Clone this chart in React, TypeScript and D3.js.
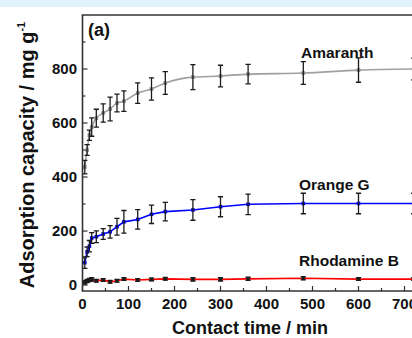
import React from "react";
import * as d3 from "d3";

const times = [5, 10, 15, 20, 30, 45, 60, 75, 90, 120, 150, 180, 240, 300, 360, 480, 600, 720];
const amaranth = [437, 500, 555, 585, 618, 637, 652, 674, 681, 711, 726, 748, 770, 774, 781, 785, 796, 800];
const amaranthErr = [25, 20, 19, 34, 33, 34, 44, 33, 38, 38, 41, 42, 46, 40, 36, 42, 45, 40];
const orangeG = [83, 123, 144, 174, 179, 189, 197, 216, 234, 243, 262, 272, 278, 290, 299, 302, 302, 302];
const orangeGErr = [21, 18, 21, 20, 22, 20, 23, 31, 42, 36, 34, 34, 38, 37, 38, 38, 38, 38];
const rhodamineB = [10, 15, 19, 21, 16, 19, 12, 16, 22, 19, 21, 23, 21, 21, 23, 25, 22, 22];
const rhodamineBErr = [6, 6, 6, 6, 5, 5, 5, 5, 5, 5, 5, 5, 6, 6, 6, 6, 5, 5];

const xMajor = [0, 100, 200, 300, 400, 500, 600, 700];
const xMinor = [50, 150, 250, 350, 450, 550, 650];
const yMajor = [0, 200, 400, 600, 800];
const yMinor = [100, 300, 500, 700, 900];

const seriesNames = ["Amaranth", "Orange G", "Rhodamine B"];

const FONT = "'Liberation Sans', Arial, Helvetica, sans-serif";

export default function App() {
  const W = 412, H = 338;
  const x = d3.scaleLinear().domain([0, 700]).range([82.5, 404.5]);
  const y = d3.scaleLinear().domain([-22, 1000]).range([291, 15]);
  const xEnd = x(760);

  const series = [
    { name: seriesNames[0], vals: amaranth, err: amaranthErr, color: "#a0a0a0", marker: "#8a8a8a", curve: d3.curveMonotoneX, lx: 301, ly: 58 },
    { name: seriesNames[1], vals: orangeG, err: orangeGErr, color: "#0000ff", marker: "#0000e0", curve: d3.curveLinear, lx: 299, ly: 190 },
    { name: seriesNames[2], vals: rhodamineB, err: rhodamineBErr, color: "#ff0000", marker: "#222", curve: d3.curveLinear, lx: 299, ly: 266 },
  ];

  return (
    <svg width={W} height={H} style={{ position: "absolute", left: 0, top: 0, display: "block" }} fontFamily={FONT}>
      <rect x={0} y={0} width={W} height={H} fill="#fff" />
      <rect x={0} y={0} width={W} height={7} fill="#e0f2fa" />
      <defs>
        <clipPath id="plotclip">
          <rect x={x(0)} y={y(1000)} width={xEnd - x(0)} height={y(-22) - y(1000)} />
        </clipPath>
      </defs>

      {/* lines */}
      <g clipPath="url(#plotclip)">
        {series.map((s) => {
          const line = d3.line<number>().x((_, i) => x(times[i])).y((v) => y(v)).curve(s.curve);
          return <path key={s.name + "l"} d={line(s.vals) || ""} fill="none" stroke={s.color} strokeWidth={1.6} />;
        })}
        {series.map((s) => (
          <g key={s.name + "m"}>
            {s.vals.map((v, i) => (
              <rect key={i} x={x(times[i]) - 1.8} y={y(v) - 1.8} width={3.6} height={3.6} fill={s.marker} />
            ))}
          </g>
        ))}
        {series.map((s) => (
          <g key={s.name + "e"} stroke="#1a1a1a" strokeWidth={1.3}>
            {s.vals.map((v, i) => {
              const cx = x(times[i]);
              const y1 = y(v + s.err[i]);
              const y2 = y(v - s.err[i]);
              return (
                <g key={i}>
                  <line x1={cx} x2={cx} y1={y1} y2={y2} />
                  <line x1={cx - 2.6} x2={cx + 2.6} y1={y1} y2={y1} />
                  <line x1={cx - 2.6} x2={cx + 2.6} y1={y2} y2={y2} />
                </g>
              );
            })}
          </g>
        ))}
      </g>

      {/* frame */}
      <g stroke="#333" strokeWidth={1.6} fill="none">
        <line x1={x(0)} x2={x(0)} y1={y(1000)} y2={y(-22)} />
        <line x1={x(0) - 0.8} x2={xEnd} y1={y(1000)} y2={y(1000)} />
        <line x1={x(0) - 0.8} x2={xEnd} y1={y(-22)} y2={y(-22)} />
      </g>

      {/* ticks */}
      <g stroke="#333" strokeWidth={1.2}>
        {yMajor.map((t) => (
          <line key={"ym" + t} x1={x(0)} x2={x(0) + 5} y1={y(t)} y2={y(t)} />
        ))}
        {yMinor.map((t) => (
          <line key={"yn" + t} x1={x(0)} x2={x(0) + 3} y1={y(t)} y2={y(t)} />
        ))}
        {xMajor.map((t) => (
          <line key={"xm" + t} x1={x(t)} x2={x(t)} y1={y(-22)} y2={y(-22) - 5} />
        ))}
        {xMinor.map((t) => (
          <line key={"xn" + t} x1={x(t)} x2={x(t)} y1={y(-22)} y2={y(-22) - 3} />
        ))}
      </g>

      {/* tick labels */}
      <g fontSize={15} fontWeight="bold" fill="#111">
        {yMajor.map((t) => (
          <text key={"yl" + t} x={77} y={y(t) + 5} textAnchor="end">{t}</text>
        ))}
        {xMajor.map((t) => (
          <text key={"xl" + t} x={x(t)} y={309} textAnchor="middle">{t}</text>
        ))}
      </g>

      {/* series labels */}
      <g fontSize={15.5} fontWeight="bold" fill="#111">
        {series.map((s) => (
          <text key={s.name + "t"} x={s.lx} y={s.ly}>{s.name}</text>
        ))}
      </g>

      <text x={88} y={36} fontSize={18} fontWeight="bold" fill="#111">(a)</text>

      <text x={250} y={334} fontSize={18} fontWeight="bold" textAnchor="middle" fill="#111">Contact time / min</text>

      <text transform="translate(34,155) rotate(-90)" fontSize={20} fontWeight="bold" textAnchor="middle" fill="#111">
        Adsorption capacity / mg g<tspan fontSize={11} dy={-9}>-1</tspan>
      </text>
    </svg>
  );
}
